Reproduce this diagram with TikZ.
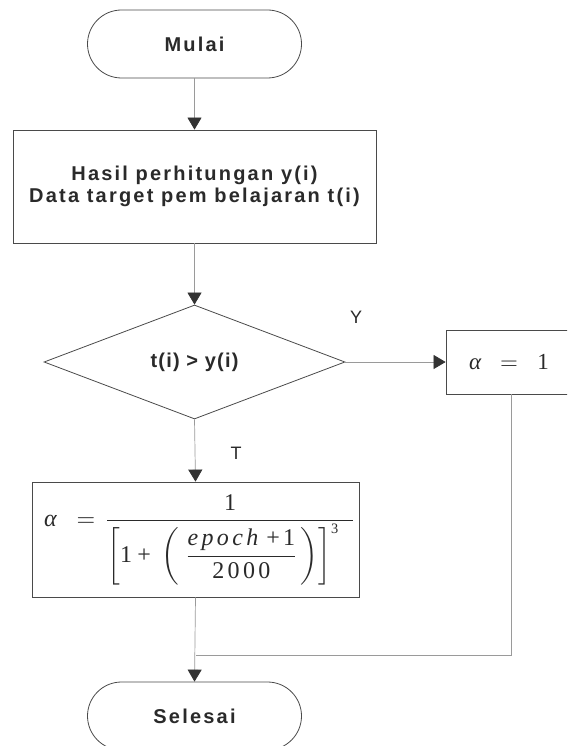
\documentclass[tikz,border=0pt]{standalone}
\usepackage{amsmath}
\usepackage{graphicx}
\usepackage{fontspec}
\setmainfont{Liberation Sans}
\newfontfamily\lblfont{Liberation Sans}[LetterSpace=11]
\newfontfamily\dfont{Liberation Sans}[LetterSpace=6]
\newfontfamily\tmsfont{Liberation Serif}[LetterSpace=14]
\newcommand{\tm}[1]{\text{\fontsize{10}{12}\tmsfont #1}}
\usetikzlibrary{shapes.geometric,arrows.meta}
\definecolor{edgec}{HTML}{4A4A4A}
\definecolor{linec}{HTML}{9A9A9A}
\definecolor{txtc}{HTML}{2A2A2A}
\begin{document}
\begin{tikzpicture}[x=1pt,y=-1pt,
  outline/.style={draw=edgec, line width=0.8pt},
  term/.style={outline, rounded corners=34pt, minimum width=214pt, minimum height=68pt, inner sep=0pt,
    font=\lblfont\bfseries\fontsize{20}{24}\selectfont, text=txtc},
  proc/.style={outline, rectangle, inner sep=0pt},
  dec/.style={outline, diamond, minimum width=301pt, minimum height=114pt, inner sep=0pt,
    font=\dfont\bfseries\fontsize{20}{24}\selectfont, text=txtc},
  conn/.style={draw=linec, line width=0.7pt},
  arr/.style={conn, -{Triangle[length=12pt,width=14pt,fill=black!80,color=black!80]}},
  lbl/.style={font=\fontsize{18}{22}\selectfont, text=txtc}
]
\useasboundingbox (0,0) rectangle (567,746);
\clip (0,0) rectangle (567,746);
\fill[white] (0,0) rectangle (567,746);

\node[term] (mulai) at (194.5,44) {Mulai};
\node[proc, minimum width=363pt, minimum height=113pt, align=center,
  font=\lblfont\bfseries\fontsize{20}{22}\selectfont, text=txtc] (data) at (194.5,186.5)
  {Hasil perhitungan y(i)\\Data target pem belajaran t(i)};
\node[dec] (cek) at (194.5,362) {t(i) > y(i)};
\node[proc, minimum width=130pt, minimum height=64pt, text width=130pt, align=left, text=txtc] (a1) at (511,362)
  {\hspace*{23pt}\scalebox{2.3}{$\tm{\itshape α}\;\;=\;\;\tm{1}$}};
\node[proc, minimum width=327pt, minimum height=115pt, text width=327pt, align=left, text=txtc] (form) at (195.5,539.5)
  {\hspace*{12pt}\scalebox{2.4}{$\tm{\itshape α}\;\;=\mkern2mu\dfrac{\tm{1}}{\left[\tm{1}\mkern4mu\tm{+}\mkern5mu\left(\mkern4mu\dfrac{\tm{\itshape epoch}\mkern6mu\tm{+1}}{\tm{2000}}\mkern2mu\right)\right]^{\text{\fontsize{6}{7}\tmsfont 3}}\mkern10mu}$}};
\node[term] (selesai) at (194.5,716) {Selesai};

\node[lbl] (ylbl) at (356,317) {Y};
\node[lbl] (tlbl) at (236,453) {T};

\coordinate (join) at (form.south |- 0,655);

\draw[arr] (mulai) -- (data);
\draw[arr] (data) -- (cek);
\draw[arr] (cek.east) -- (a1.west);
\draw[arr] (cek.south) -- (form.north);
\draw[arr] (form.south) -- (selesai.north);
\draw[conn] (a1.south) |- (join);
\end{tikzpicture}
\end{document}
